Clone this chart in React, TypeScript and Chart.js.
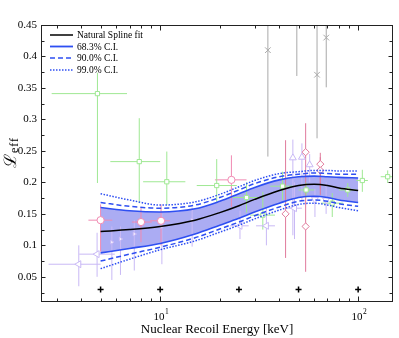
import React, { useEffect, useRef } from 'react';
import { Chart, registerables } from 'chart.js';

Chart.register(...registerables);

const FONT = '"Liberation Serif", "DejaVu Serif", "Times New Roman", serif';

// ---- Natural spline fit and confidence bands ----
const fitEnergy = [5, 7, 10, 15, 20, 25, 30, 40, 50, 60, 70, 80, 100];
const fitCenter = [0.122, 0.125, 0.130, 0.140, 0.152, 0.163, 0.173, 0.187, 0.195, 0.197, 0.195, 0.191, 0.187];
const ci683Upper = [0.160, 0.155, 0.153, 0.158, 0.170, 0.182, 0.192, 0.204, 0.209, 0.210, 0.209, 0.208, 0.207];
const ci683Lower = [0.088, 0.095, 0.103, 0.118, 0.132, 0.143, 0.153, 0.167, 0.176, 0.178, 0.176, 0.172, 0.168];
const ci900Upper = [0.168, 0.162, 0.159, 0.164, 0.176, 0.188, 0.198, 0.209, 0.213, 0.215, 0.214, 0.213, 0.213];
const ci900Lower = [0.075, 0.086, 0.097, 0.112, 0.126, 0.137, 0.147, 0.161, 0.170, 0.172, 0.170, 0.166, 0.162];
const ci990Upper = [0.182, 0.172, 0.164, 0.169, 0.181, 0.193, 0.203, 0.214, 0.217, 0.219, 0.219, 0.218, 0.218];
const ci990Lower = [0.063, 0.078, 0.093, 0.107, 0.121, 0.132, 0.142, 0.156, 0.165, 0.167, 0.164, 0.160, 0.155];

// ---- Measurements: gray crosses (vertical errors only) ----
const grayE = [35, 49, 62, 69];
const grayV = [0.41, 0.50, 0.371, 0.43];
const grayYLo = [0.241, 0.369, 0.27, 0.351];
const grayYHi = [0.62, 0.62, 0.62, 0.62];

// ---- green squares ----
const greenE = [4.82, 7.84, 10.8, 19.3, 27.3, 33.0, 41.5, 54.6, 74, 88.6, 105, 141];
const greenV = [0.341, 0.233, 0.201, 0.195, 0.176, 0.148, 0.194, 0.188, 0.167, 0.188, 0.203, 0.209];
const greenXLo = [2.83, 5.6, 8.2, 15.3, 23.3, 28.5, 36, 50, 65, 80, 98, 130];
const greenXHi = [6.8, 10, 13.4, 24.4, 31.8, 38, 47, 60, 84, 98, 112, 160];
const greenYLo = [0.199, 0.167, 0.164, 0.167, 0.152, 0.125, 0.172, 0.176, 0.145, 0.177, 0.185, 0.199];
const greenYHi = [0.374, 0.302, 0.249, 0.237, 0.200, 0.185, 0.217, 0.200, 0.183, 0.199, 0.220, 0.219];

// ---- pink circles ----
const pinkCE = [5.0, 8.0, 10.1, 22.9];
const pinkCV = [0.140, 0.137, 0.139, 0.204];
const pinkCXLo = [4.34, 7.2, 8.9, 18.9];
const pinkCXHi = [5.73, 9.08, 11.2, 27.3];
const pinkCYLo = [0.09, 0.105, 0.10, 0.161];
const pinkCYHi = [0.165, 0.16, 0.165, 0.243];

// ---- pink diamonds ----
const pinkDE = [43.0, 54.3, 54.3, 64.4, 64.4];
const pinkDV = [0.150, 0.248, 0.130, 0.229, 0.219];
const pinkDYLo = [0.080, 0.205, 0.058, 0.19, 0.18];
const pinkDYHi = [0.267, 0.294, 0.205, 0.247, 0.24];

// ---- purple triangles ----
const purUpE = [46.8, 52, 56.9];
const purUpV = [0.239, 0.240, 0.228];
const purUpYLo = [0.116, 0.17, 0.2];
const purUpYHi = [0.268, 0.262, 0.245];

const purDownE = [60.5, 68.9];
const purDownV = [0.173, 0.172];
const purDownYLo = [0.145, 0.15];
const purDownYHi = [0.19, 0.2];

const purLeftE = [3.88, 4.8, 25.3, 34.4, 47.7];
const purLeftV = [0.070, 0.086, 0.131, 0.131, 0.159];
const purLeftXLo = [2.73, 3.9, 22.5, 30.5, 43];
const purLeftXHi = [5.0, 5.9, 28, 38, 52];
const purLeftYLo = [0.035, 0.05, 0.11, 0.10, 0.11];
const purLeftYHi = [0.10, 0.12, 0.155, 0.16, 0.2];

const purSmallE = [5.7, 6.3, 7.4, 10.2, 14.5];
const purSmallV = [0.105, 0.11, 0.118, 0.130, 0.14];
const purSmallYLo = [0.045, 0.053, 0.06, 0.07, 0.098];
const purSmallYHi = [0.13, 0.13, 0.14, 0.15, 0.16];

// ---- reference energies (+) ----
const refE = [5, 10, 25, 50, 100];
const refV = [0.03, 0.03, 0.03, 0.03, 0.03];

// ---- axes ----
const xMin = 2.5;
const xMax = 150;
const yMin = 0.01;
const yMax = 0.45;
const xMajorTicks = [10, 100];
const xMinorTicks = [3, 4, 5, 6, 7, 8, 9, 20, 30, 40, 50, 60, 70, 80, 90];
const yTickVals = [0.05, 0.1, 0.15, 0.2, 0.25, 0.3, 0.35, 0.4, 0.45];
const yTickLabels = ['0.05', '0.1', '0.15', '0.2', '0.25', '0.3', '0.35', '0.4', '0.45'];
const yMinorTicks = [0.025, 0.075, 0.125, 0.175, 0.225, 0.275, 0.325, 0.375, 0.425];

const legendLabels = ['Natural Spline fit', '68.3% C.I.', '90.0% C.I.', '99.0% C.I.'];

const GREEN = '#9fe893';
const PINK = '#f08ab2';
const PINK_D = '#e07a9c';
const PURPLE = '#c9b9f5';
const GRAY = '#a9a9a9';
const BLUE = '#2e4ff2';
const BAND = '#abacf3';

function pts(xs: number[], ys: number[]) {
  return xs.map((x, i) => ({ x, y: ys[i] }));
}

function errSegs(E: number[], V: number[], yLo: number[], yHi: number[], xLo?: number[], xHi?: number[]) {
  const out: { x: number; y: number | null }[] = [];
  E.forEach((e, i) => {
    if (xLo && xHi) {
      out.push({ x: xLo[i], y: V[i] }, { x: xHi[i], y: V[i] }, { x: e, y: null });
    }
    out.push({ x: e, y: yLo[i] }, { x: e, y: yHi[i] }, { x: e, y: null });
  });
  return out;
}

function errDs(data: any[], color: string) {
  return {
    data,
    borderColor: color,
    borderWidth: 1,
    pointRadius: 0,
    spanGaps: false,
    fill: false,
    order: 6,
  };
}

function markDs(data: any[], color: string, style: string, rot = 0, r = 3.2) {
  return {
    data,
    showLine: false,
    pointStyle: style,
    pointRotation: rot,
    pointRadius: r,
    pointBorderColor: color,
    pointBackgroundColor: '#ffffff',
    pointBorderWidth: 1,
    borderColor: color,
    order: 4,
  };
}

function lineDs(data: any[], color: string, dash: number[], width: number, order: number) {
  return {
    data,
    borderColor: color,
    borderWidth: width,
    borderDash: dash,
    pointRadius: 0,
    fill: false,
    cubicInterpolationMode: 'monotone',
    order,
  };
}

const framePlugin = {
  id: 'frameAndText',
  afterDraw(chart: any) {
    const { ctx, chartArea: a, scales } = chart;
    const xs = scales.x;
    const ys = scales.y;
    const L = Math.round(a.left) + 0.5;
    const R = Math.round(a.right) - 0.5;
    const T = Math.round(a.top) + 0.5;
    const B = Math.round(a.bottom) - 0.5;
    ctx.save();
    ctx.strokeStyle = '#222222';
    ctx.lineWidth = 1;
    ctx.setLineDash([]);
    ctx.strokeRect(L, T, R - L, B - T);
    ctx.beginPath();
    const xt = (v: number, len: number) => {
      const p = Math.round(xs.getPixelForValue(v)) + 0.5;
      ctx.moveTo(p, B);
      ctx.lineTo(p, B - len);
      ctx.moveTo(p, T);
      ctx.lineTo(p, T + len);
    };
    xMajorTicks.forEach((v) => xt(v, 5));
    xMinorTicks.forEach((v) => xt(v, 3));
    const yt = (v: number, len: number) => {
      const p = Math.round(ys.getPixelForValue(v)) + 0.5;
      ctx.moveTo(L, p);
      ctx.lineTo(L + len, p);
      ctx.moveTo(R, p);
      ctx.lineTo(R - len, p);
    };
    yTickVals.forEach((v) => yt(v, 4));
    yMinorTicks.forEach((v) => yt(v, 3));
    ctx.stroke();

    // x tick labels 10^n
    ctx.fillStyle = '#000000';
    ctx.textBaseline = 'alphabetic';
    ctx.textAlign = 'left';
    xMajorTicks.forEach((v) => {
      const p = xs.getPixelForValue(v);
      const base = '10';
      const exp = String(Math.round(Math.log10(v)));
      ctx.font = `11px ${FONT}`;
      const wb = ctx.measureText(base).width;
      ctx.font = `7.5px ${FONT}`;
      const we = ctx.measureText(exp).width;
      const x0 = p - (wb + we + 0.5) / 2 + 1;
      ctx.font = `11px ${FONT}`;
      ctx.fillText(base, x0, 320);
      ctx.font = `7.5px ${FONT}`;
      ctx.fillText(exp, x0 + wb + 0.5, 313.5);
    });

    // x title
    ctx.font = `13px ${FONT}`;
    ctx.textAlign = 'center';
    ctx.fillText('Nuclear Recoil Energy [keV]', (a.left + a.right) / 2, 333);

    // y title: script L with subscript eff
    ctx.save();
    ctx.translate(16, 153);
    ctx.rotate(-Math.PI / 2);
    ctx.textAlign = 'left';
    ctx.font = `17px ${FONT}`;
    const wL = ctx.measureText('ℒ').width;
    ctx.font = `12px ${FONT}`;
    const wS = ctx.measureText('eff').width + 2;
    const sx = -(wL + wS + 1) / 2;
    ctx.font = `17px ${FONT}`;
    ctx.fillText('ℒ', sx, 0);
    ctx.font = `12px ${FONT}`;
    (ctx as any).letterSpacing = '1px';
    ctx.fillText('eff', sx + wL + 1, 1.5);
    (ctx as any).letterSpacing = '0px';
    ctx.restore();

    // legend
    const lx = a.left + 9;
    const rows = [10, 21.5, 33, 45];
    const styles: [string, number[], number][] = [
      ['#000000', [], 1.5],
      [BLUE, [], 1.8],
      [BLUE, [5, 3], 1.5],
      [BLUE, [1.5, 1.5], 1.5],
    ];
    ctx.font = `9.5px ${FONT}`;
    ctx.textAlign = 'left';
    ctx.textBaseline = 'middle';
    rows.forEach((dy, i) => {
      const yy = a.top + dy;
      ctx.beginPath();
      ctx.strokeStyle = styles[i][0];
      ctx.setLineDash(styles[i][1]);
      ctx.lineWidth = styles[i][2];
      ctx.moveTo(lx, yy);
      ctx.lineTo(lx + 23, yy);
      ctx.stroke();
      ctx.setLineDash([]);
      ctx.fillStyle = '#000000';
      ctx.fillText(legendLabels[i], lx + 27, yy + 0.5);
    });
    ctx.restore();
  },
};

export default function App() {
  const ref = useRef<HTMLCanvasElement | null>(null);

  useEffect(() => {
    if (!ref.current) return;
    const datasets: any[] = [
      // band fill (index 0 fills to index 1)
      {
        data: pts(fitEnergy, ci683Upper),
        borderWidth: 0,
        borderColor: 'rgba(0,0,0,0)',
        backgroundColor: BAND,
        pointRadius: 0,
        fill: '+1',
        cubicInterpolationMode: 'monotone',
        order: 20,
      },
      {
        data: pts(fitEnergy, ci683Lower),
        borderWidth: 0,
        borderColor: 'rgba(0,0,0,0)',
        pointRadius: 0,
        fill: false,
        cubicInterpolationMode: 'monotone',
        order: 21,
      },
      // error bars
      errDs(errSegs(grayE, grayV, grayYLo, grayYHi), GRAY),
      errDs(errSegs(greenE, greenV, greenYLo, greenYHi, greenXLo, greenXHi), GREEN),
      errDs(errSegs(pinkCE, pinkCV, pinkCYLo, pinkCYHi, pinkCXLo, pinkCXHi), PINK),
      errDs(errSegs(pinkDE, pinkDV, pinkDYLo, pinkDYHi), PINK_D),
      errDs(errSegs(purUpE, purUpV, purUpYLo, purUpYHi), PURPLE),
      errDs(errSegs(purDownE, purDownV, purDownYLo, purDownYHi), PURPLE),
      errDs(errSegs(purLeftE, purLeftV, purLeftYLo, purLeftYHi, purLeftXLo, purLeftXHi), PURPLE),
      errDs(errSegs(purSmallE, purSmallV, purSmallYLo, purSmallYHi), PURPLE),
      // markers
      markDs(pts(grayE, grayV), GRAY, 'crossRot', 0, 4),
      markDs(pts(greenE, greenV), GREEN, 'rect', 0, 3),
      markDs(pts(pinkCE, pinkCV), PINK, 'circle', 0, 3.6),
      markDs(pts(pinkDE, pinkDV), PINK_D, 'rectRot', 0, 3.6),
      markDs(pts(purUpE, purUpV), PURPLE, 'triangle', 0, 4),
      markDs(pts(purDownE, purDownV), PURPLE, 'triangle', 180, 4),
      markDs(pts(purLeftE, purLeftV), PURPLE, 'triangle', 270, 4),
      markDs(pts(purSmallE, purSmallV), PURPLE, 'triangle', 90, 2.2),
      // reference energies
      {
        data: pts(refE, refV),
        showLine: false,
        pointStyle: 'cross',
        pointRadius: 3,
        pointBorderWidth: 1.5,
        pointBorderColor: '#000000',
        borderColor: '#000000',
        order: 3,
      },
      // CI lines
      lineDs(pts(fitEnergy, ci683Upper), BLUE, [], 1.6, 2),
      lineDs(pts(fitEnergy, ci683Lower), BLUE, [], 1.6, 2),
      lineDs(pts(fitEnergy, ci900Upper), BLUE, [5, 3], 1.5, 2),
      lineDs(pts(fitEnergy, ci900Lower), BLUE, [5, 3], 1.5, 2),
      lineDs(pts(fitEnergy, ci990Upper), BLUE, [1.5, 1.5], 1.5, 2),
      lineDs(pts(fitEnergy, ci990Lower), BLUE, [1.5, 1.5], 1.5, 2),
      // spline fit
      lineDs(pts(fitEnergy, fitCenter), '#000000', [], 1.5, 1),
    ];

    const chart = new Chart(ref.current, {
      type: 'line',
      data: { datasets },
      plugins: [framePlugin],
      options: {
        responsive: false,
        animation: false,
        devicePixelRatio: 1,
        events: [],
        layout: { padding: { top: 25, right: 6, left: 0, bottom: 0 } },
        plugins: {
          legend: { display: false },
          tooltip: { enabled: false },
        },
        scales: {
          x: {
            type: 'logarithmic',
            min: xMin,
            max: xMax,
            ticks: { display: false },
            grid: { display: false, drawTicks: false },
            border: { display: false },
            afterFit: (s: any) => {
              s.height = 36;
            },
          },
          y: {
            type: 'linear',
            min: yMin,
            max: yMax,
            afterBuildTicks: (s: any) => {
              s.ticks = yTickVals.map((v) => ({ value: v }));
            },
            ticks: {
              callback: (_v: any, i: number) => yTickLabels[i],
              font: { family: FONT, size: 11 },
              color: '#000000',
              padding: 4,
            },
            grid: { display: false, drawTicks: false },
            border: { display: false },
            afterFit: (s: any) => {
              s.width = 41;
            },
          },
        },
      } as any,
    });
    return () => chart.destroy();
  }, []);

  return (
    <div style={{ position: 'absolute', left: 0, top: 0, width: 399, height: 338, background: '#ffffff' }}>
      <canvas ref={ref} width={399} height={338} />
    </div>
  );
}
